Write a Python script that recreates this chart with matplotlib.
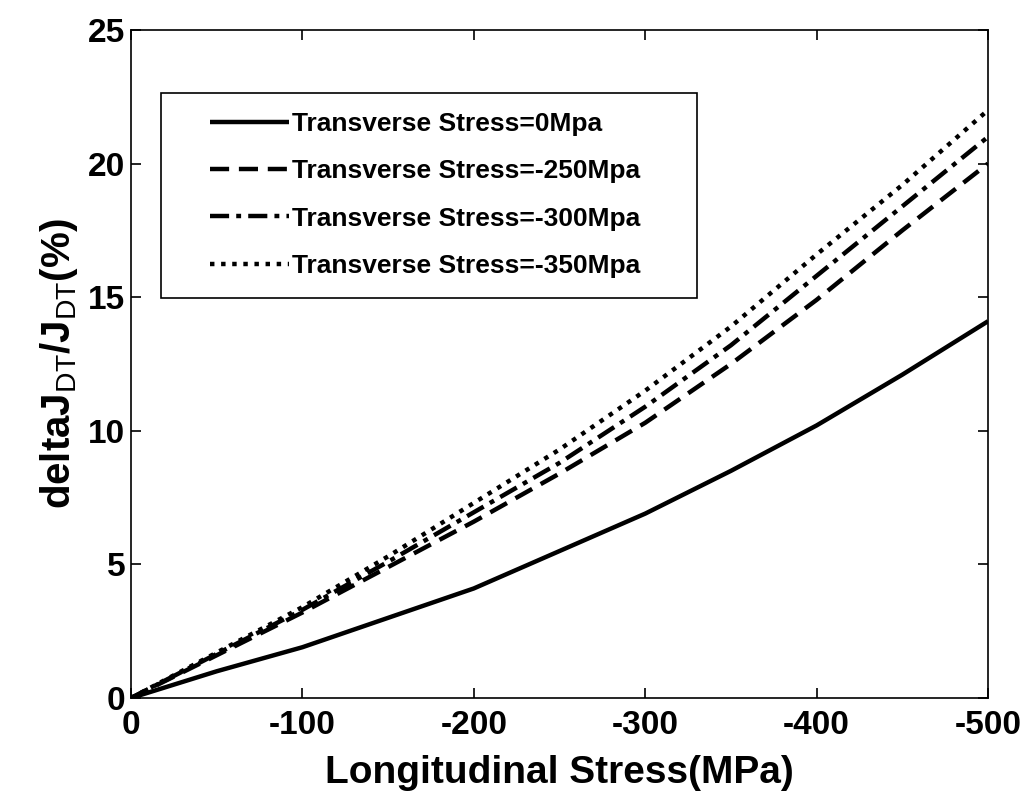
import matplotlib
matplotlib.use("Agg")
import matplotlib.pyplot as plt
from matplotlib.patches import Rectangle

plt.rcParams['font.family'] = ['Liberation Sans', 'DejaVu Sans']
plt.rcParams['mathtext.fontset'] = 'custom'
plt.rcParams['mathtext.rm'] = 'Liberation Sans'
plt.rcParams['mathtext.bf'] = 'Liberation Sans:bold'

# Longitudinal stress (MPa)
stress = [0, -50, -100, -150, -200, -250, -300, -350, -400, -450, -500]

# Relative change deltaJ_DT/J_DT (%) for each transverse stress
t0 = [0, 1.0, 1.9, 3.0, 4.1, 5.5, 6.9, 8.5, 10.2, 12.1, 14.1]
t250 = [0, 1.6, 3.2, 4.9, 6.6, 8.4, 10.3, 12.5, 14.9, 17.5, 20.0]
t300 = [0, 1.65, 3.3, 5.1, 6.95, 8.8, 10.9, 13.2, 15.8, 18.4, 21.0]
t350 = [0, 1.7, 3.4, 5.3, 7.3, 9.3, 11.5, 13.9, 16.6, 19.2, 22.0]

labels = ['Transverse Stress=0Mpa', 'Transverse Stress=-250Mpa',
          'Transverse Stress=-300Mpa', 'Transverse Stress=-350Mpa']

xticks = [0, -100, -200, -300, -400, -500]
yticks = [0, 5, 10, 15, 20, 25]

fig = plt.figure(figsize=(10.27, 7.98), dpi=100)
ax = fig.add_axes([131 / 1027, 100 / 798, 857 / 1027, 668 / 798])

lw = 3.2
styles = ['-', (0, (4.3, 2.2)), (0, (4.3, 1.6, 1.1, 1.6)), (0, (1.0, 1.5))]
for ys, ls, lab in zip([t0, t250, t300, t350], styles, labels):
    ax.plot(stress, ys, color='black', lw=lw, linestyle=ls, label=lab,
            solid_capstyle='butt', dash_capstyle='butt',
            solid_joinstyle='round')

ax.set_xlim(0, -500)
ax.set_ylim(0, 25)
ax.set_xticks(xticks)
ax.set_xticklabels([str(v) for v in xticks])
ax.set_yticks(yticks)

ax.tick_params(direction='in', length=7, width=1.2, top=True, right=True,
               labelsize=24)
ax.tick_params(axis='x', pad=9)
ax.tick_params(axis='y', pad=4)
for lab in ax.get_xticklabels() + ax.get_yticklabels():
    lab.set_fontweight('bold')
for sp in ax.spines.values():
    sp.set_linewidth(1.2)

ax.set_xlabel('Longitudinal Stress(MPa)', fontsize=28, fontweight='bold',
              labelpad=10)
ax.set_ylabel(r'deltaJ$_{\mathrm{DT}}$/J$_{\mathrm{DT}}$(%)', fontsize=29,
              fontweight='bold', labelpad=6)

# Legend frame
ax.add_patch(Rectangle((0.035, 0.599), 0.625, 0.307, transform=ax.transAxes,
                       fill=False, edgecolor='black', lw=1.2, zorder=5))
ax.legend(loc='upper left', bbox_to_anchor=(0.092, 0.877), frameon=False,
          borderpad=0, borderaxespad=0, handlelength=3.0, handletextpad=0.12,
          labelspacing=0.88, prop={'size': 19, 'weight': 'bold'})

fig.savefig('out.png', dpi=100, facecolor='white')
